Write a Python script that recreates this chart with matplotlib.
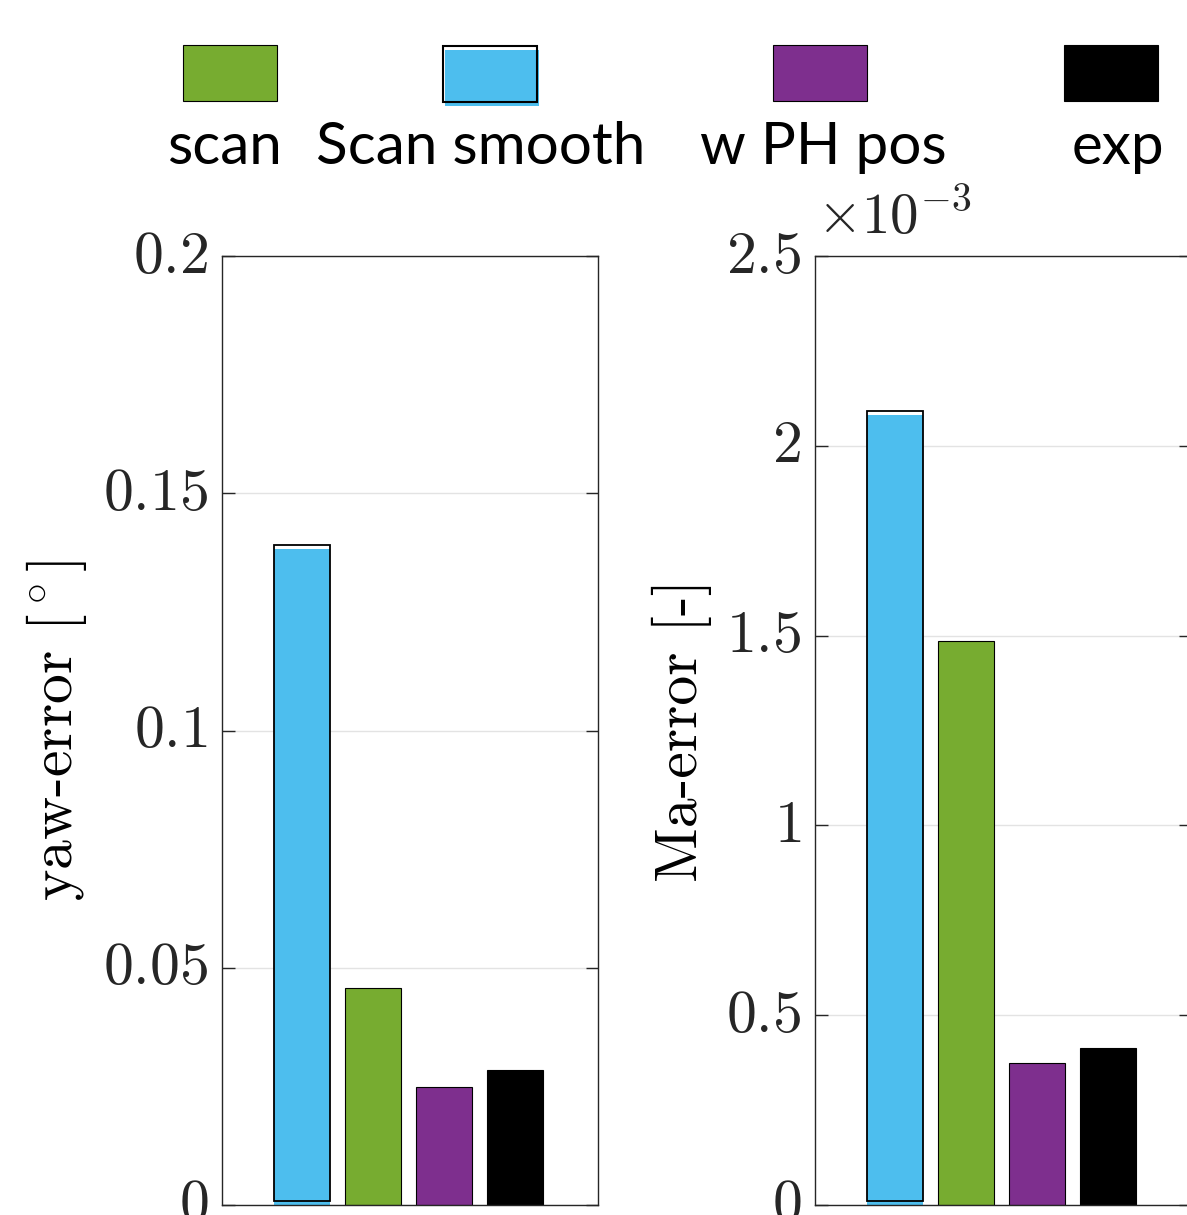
import numpy as np
import matplotlib.pyplot as plt
from matplotlib.patches import Rectangle

plt.rcParams['mathtext.fontset'] = 'cm'

# legend order and colours (MATLAB default palette)
legend_labels = ['scan', 'Scan smooth', 'w PH pos', 'exp']
legend_colors = ['#77AC30', '#4DBEEE', '#7E2F8E', '#000000']

# bar order inside the axes
bar_labels = ['Scan smooth', 'scan', 'w PH pos', 'exp']
bar_colors = ['#4DBEEE', '#77AC30', '#7E2F8E', '#000000']

yaw_error = [0.1383, 0.0457, 0.0249, 0.0285]          # deg
ma_error = [2.081e-3, 1.486e-3, 0.374e-3, 0.414e-3]   # -

yaw_ticks = [0, 0.05, 0.1, 0.15, 0.2]
yaw_ticklabels = ['0', '0.05', '0.1', '0.15', '0.2']
ma_ticks = [0, 0.5e-3, 1e-3, 1.5e-3, 2e-3, 2.5e-3]
ma_ticklabels = ['0', '0.5', '1', '1.5', '2', '2.5']

W, H = 1187, 1215
fig = plt.figure(figsize=(W / 100, H / 100), dpi=100)

tick_fs = 43
spine_col = '#262626'


def style_axes(ax, ymax, ticks, ticklabels):
    x = np.arange(1, len(bar_labels) + 1)
    ax.set_xlim(1 - 80 / 71, 4 + 83 / 71)
    ax.set_ylim(0, ymax)
    ax.set_xticks([])
    ax.set_yticks(ticks)
    ax.set_yticklabels(['$%s$' % t for t in ticklabels], fontsize=tick_fs,
                       va='center')
    ax.tick_params(axis='y', direction='in', length=9, width=1, right=True,
                   colors=spine_col, labelcolor='#262626', pad=10)
    ax.yaxis.grid(True, color='#e3e3e3', lw=1)
    ax.set_axisbelow(True)
    for s in ax.spines.values():
        s.set_color(spine_col)
        s.set_linewidth(1)
    return x


def draw_bars(ax, x, vals, shift):
    for xi, v, lab, c in zip(x, vals, bar_labels, bar_colors):
        if lab == 'Scan smooth':
            ax.bar(xi, v, width=0.79, color=c, edgecolor='none', zorder=2)
            ax.bar(xi, v, width=0.79, bottom=shift, facecolor='none',
                   edgecolor='k', lw=1.3, zorder=3)
        else:
            ax.bar(xi, v, width=0.79, color=c, edgecolor='k', lw=0.8, zorder=2)


ax1 = fig.add_axes([222 / W, 10 / H, 376 / W, 949 / H])
x = style_axes(ax1, 0.2, yaw_ticks, yaw_ticklabels)
draw_bars(ax1, x, yaw_error, 0.2 * 4 / 949)
ax1.set_ylabel('yaw-error [$^\\circ$]', family='cmr10', fontsize=tick_fs,
               labelpad=10)

ax2 = fig.add_axes([815 / W, 10 / H, 376 / W, 949 / H])
x = style_axes(ax2, 2.5e-3, ma_ticks, ma_ticklabels)
draw_bars(ax2, x, ma_error, 2.5e-3 * 4 / 949)
ax2.set_ylabel('Ma-error [-]', family='cmr10', fontsize=tick_fs, labelpad=10)
ax2.text(0.005, 1.01, r'$\times10^{-3}$', transform=ax2.transAxes,
         fontsize=41, color='#262626', ha='left', va='bottom')

# custom legend: patches above labels
lax = fig.add_axes([0, 0, 1, 1], zorder=-1)
lax.set_xlim(0, W)
lax.set_ylim(H, 0)
lax.axis('off')
patch_cx = [230, 490, 820, 1111]
text_cx = [224, 481, 823, 1118]
for lab, c, pcx, tcx in zip(legend_labels, legend_colors, patch_cx, text_cx):
    if lab == 'Scan smooth':
        lax.add_patch(Rectangle((pcx - 45, 50), 94, 56, facecolor=c, edgecolor='none'))
        lax.add_patch(Rectangle((pcx - 47, 46), 94, 56, facecolor='none',
                                edgecolor='k', lw=1.5))
    else:
        lax.add_patch(Rectangle((pcx - 47, 45), 94, 56, facecolor=c,
                                edgecolor='k', lw=0.8))
    lax.text(tcx, 147, lab, family='Lato', fontsize=42, ha='center',
             va='center', color='k')

fig.savefig('out.png', dpi=100)
